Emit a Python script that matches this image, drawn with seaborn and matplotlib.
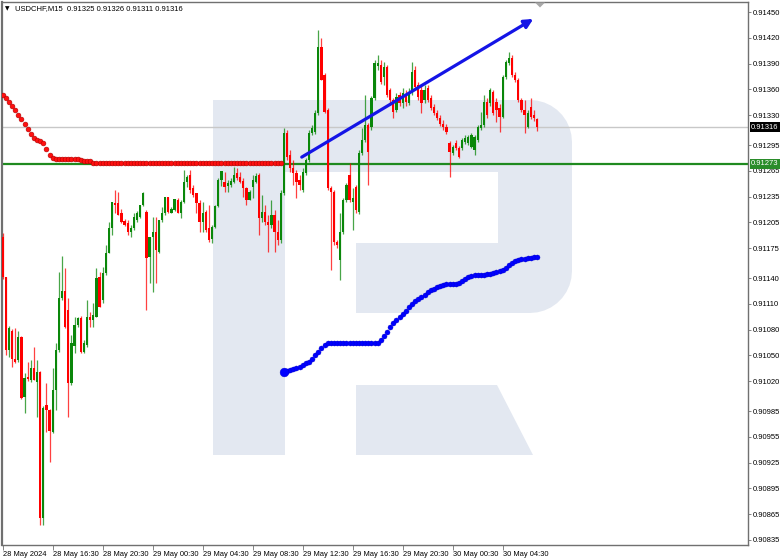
import matplotlib
matplotlib.use("Agg")
import matplotlib.pyplot as plt
import matplotlib.transforms as mtransforms
from matplotlib.patches import Polygon, FancyArrowPatch
import numpy as np
import pandas as pd
import seaborn as sns

# ---------------- data (prices in points, 1 point = 0.00001) ----------------
POINT = 1e-5
open_pts = [91188, 91141, 91056, 91078, 91046, 91045, 91071, 91001, 91025, 91021,
            91035, 91019, 91031, 90860, 90992, 90986, 90961, 91010, 91056, 91117,
            91125, 91103, 91018, 91061, 91085, 91093, 91054, 91062, 91095, 91091,
            91095, 91141, 91114, 91146, 91169, 91198, 91227, 91227, 91216, 91206,
            91204, 91194, 91198, 91208, 91211, 91225, 91217, 91165, 91188, 91194,
            91170, 91208, 91216, 91235, 91216, 91219, 91231, 91216, 91229, 91252,
            91260, 91245, 91239, 91227, 91205, 91217, 91198, 91186, 91199, 91224,
            91254, 91252, 91247, 91248, 91252, 91262, 91258, 91253, 91245, 91231,
            91246, 91252, 91260, 91210, 91217, 91205, 91202, 91213, 91194, 91184,
            91239, 91309, 91283, 91268, 91262, 91254, 91243, 91262, 91278, 91309,
            91310, 91332, 91409, 91377, 91336, 91245, 91240, 91182, 91161, 91194,
            91231, 91260, 91229, 91246, 91217, 91286, 91301, 91318, 91316, 91350,
            91387, 91388, 91374, 91386, 91359, 91348, 91336, 91353, 91344, 91353,
            91344, 91356, 91382, 91365, 91359, 91348, 91361, 91350, 91339, 91332,
            91326, 91320, 91316, 91297, 91286, 91297, 91292, 91292, 91299, 91297,
            91293, 91289, 91301, 91315, 91318, 91345, 91344, 91357, 91345, 91338,
            91328, 91374, 91391, 91396, 91377, 91371, 91348, 91336, 91316, 91339,
            91330, 91325]
high_pts = [91193, 91141, 91084, 91081, 91082, 91078, 91073, 91030, 91042, 91045,
            91060, 91045, 91032, 90991, 91018, 90987, 91035, 91064, 91147, 91166,
            91152, 91117, 91074, 91095, 91095, 91096, 91068, 91114, 91100, 91111,
            91152, 91147, 91153, 91179, 91205, 91229, 91243, 91240, 91220, 91209,
            91208, 91202, 91216, 91218, 91225, 91240, 91219, 91188, 91211, 91211,
            91208, 91223, 91235, 91235, 91223, 91232, 91233, 91231, 91266, 91260,
            91266, 91248, 91239, 91231, 91229, 91219, 91225, 91202, 91225, 91257,
            91265, 91264, 91254, 91257, 91269, 91268, 91264, 91257, 91246, 91243,
            91260, 91262, 91262, 91237, 91225, 91213, 91231, 91219, 91208, 91243,
            91315, 91313, 91289, 91278, 91266, 91260, 91268, 91280, 91313, 91318,
            91336, 91429, 91420, 91379, 91338, 91247, 91243, 91184, 91216, 91233,
            91251, 91274, 91245, 91248, 91289, 91315, 91353, 91321, 91352, 91394,
            91400, 91394, 91392, 91388, 91361, 91350, 91356, 91357, 91361, 91359,
            91361, 91392, 91387, 91368, 91364, 91365, 91365, 91353, 91343, 91336,
            91330, 91324, 91320, 91300, 91295, 91301, 91294, 91303, 91307, 91307,
            91309, 91307, 91318, 91334, 91353, 91350, 91361, 91359, 91350, 91343,
            91377, 91394, 91403, 91400, 91380, 91373, 91350, 91348, 91336, 91350,
            91336, 91326]
low_pts = [91139, 91050, 91048, 91036, 91041, 91042, 90999, 90983, 91020, 91019,
           91021, 90978, 90852, 90852, 90961, 90926, 90960, 90986, 91054, 91114,
           91082, 90978, 91015, 91053, 91083, 91053, 91053, 91060, 91083, 91083,
           91095, 91106, 91111, 91144, 91169, 91190, 91216, 91213, 91204, 91201,
           91190, 91188, 91196, 91205, 91210, 91224, 91103, 91134, 91124, 91134,
           91169, 91205, 91213, 91216, 91216, 91218, 91216, 91210, 91227, 91246,
           91239, 91235, 91216, 91194, 91194, 91194, 91182, 91181, 91198, 91223,
           91247, 91240, 91240, 91246, 91251, 91254, 91251, 91235, 91225, 91231,
           91233, 91251, 91190, 91205, 91202, 91170, 91198, 91170, 91179, 91181,
           91237, 91278, 91264, 91248, 91233, 91243, 91240, 91260, 91275, 91307,
           91308, 91330, 91371, 91332, 91243, 91149, 91179, 91175, 91138, 91191,
           91229, 91229, 91196, 91216, 91215, 91283, 91299, 91248, 91313, 91348,
           91382, 91366, 91365, 91351, 91342, 91326, 91334, 91341, 91338, 91341,
           91342, 91353, 91359, 91348, 91332, 91344, 91345, 91336, 91330, 91324,
           91317, 91313, 91308, 91258, 91283, 91289, 91280, 91289, 91296, 91295,
           91292, 91283, 91299, 91313, 91316, 91326, 91341, 91330, 91322, 91310,
           91326, 91372, 91388, 91374, 91368, 91345, 91334, 91309, 91315, 91325,
           91323, 91311]
close_pts = [91141, 91056, 91082, 91046, 91042, 91071, 91000, 91024, 91022, 91035,
             91021, 91031, 90860, 90989, 90986, 90962, 91010, 91056, 91117, 91125,
             91083, 91018, 91064, 91085, 91093, 91054, 91064, 91095, 91091, 91097,
             91140, 91106, 91146, 91169, 91198, 91229, 91225, 91213, 91205, 91202,
             91194, 91198, 91211, 91216, 91225, 91239, 91163, 91188, 91194, 91173,
             91208, 91216, 91235, 91217, 91220, 91232, 91216, 91229, 91252, 91258,
             91243, 91237, 91227, 91205, 91216, 91196, 91184, 91199, 91224, 91254,
             91265, 91246, 91251, 91253, 91260, 91257, 91252, 91245, 91231, 91240,
             91254, 91259, 91210, 91217, 91205, 91202, 91213, 91194, 91184, 91239,
             91309, 91281, 91268, 91262, 91252, 91248, 91264, 91278, 91309, 91315,
             91332, 91409, 91371, 91334, 91245, 91240, 91182, 91179, 91194, 91231,
             91248, 91231, 91233, 91219, 91286, 91301, 91318, 91287, 91350, 91391,
             91391, 91368, 91386, 91353, 91348, 91334, 91351, 91344, 91356, 91345,
             91356, 91380, 91363, 91351, 91344, 91359, 91348, 91338, 91332, 91326,
             91320, 91316, 91310, 91287, 91293, 91292, 91281, 91301, 91303, 91304,
             91307, 91304, 91316, 91318, 91345, 91330, 91359, 91332, 91336, 91328,
             91374, 91392, 91396, 91377, 91371, 91348, 91336, 91330, 91332, 91328,
             91326, 91316]

red_ma_pts = [91353, 91350, 91345, 91341, 91336, 91330, 91325, 91320, 91314, 91308,
              91303, 91301, 91300, 91297, 91290, 91283, 91280, 91279, 91279, 91279,
              91279, 91279, 91279, 91279, 91279, 91278, 91277, 91276, 91276, 91274,
              91274, 91274, 91274, 91274, 91274, 91274, 91274, 91274, 91274, 91274,
              91274, 91274, 91274, 91274, 91274, 91274, 91274, 91274, 91274, 91274,
              91274, 91274, 91274, 91274, 91274, 91274, 91274, 91274, 91274, 91274,
              91274, 91274, 91274, 91274, 91274, 91274, 91274, 91274, 91274, 91274,
              91274, 91274, 91274, 91274, 91274, 91274, 91274, 91274, 91274, 91274,
              91274, 91274, 91274, 91274, 91274, 91274, 91274, 91274, 91274, 91274]
blue_ma_start = 90
blue_ma_pts = [91031, 91032, 91033, 91034, 91035, 91036, 91039, 91041, 91042, 91046,
               91050, 91054, 91059, 91062, 91064, 91064, 91064, 91064, 91064, 91064,
               91064, 91064, 91064, 91064, 91064, 91064, 91064, 91064, 91064, 91064,
               91064, 91068, 91073, 91077, 91083, 91088, 91091, 91095, 91098, 91102,
               91106, 91110, 91113, 91116, 91118, 91120, 91124, 91126, 91127, 91130,
               91131, 91132, 91133, 91133, 91133, 91133, 91134, 91137, 91139, 91141,
               91142, 91144, 91144, 91144, 91144, 91145, 91145, 91146, 91147, 91148,
               91149, 91152, 91155, 91158, 91160, 91161, 91162, 91162, 91163, 91163,
               91165, 91165]

trend_start = (95.7, 0.91281)
trend_end = (169.8, 0.91442)
bid_price = 0.91316
level_price = 0.91273
header_symbol = "USDCHF,M15"
header_ohlc = "0.91325 0.91326 0.91311 0.91316"
ytick_values = [0.91450, 0.91420, 0.91390, 0.91360, 0.91330, 0.91295, 0.91265,
                0.91235, 0.91205, 0.91175, 0.91140, 0.91110, 0.91080, 0.91050,
                0.91020, 0.90985, 0.90955, 0.90925, 0.90895, 0.90865, 0.90835]
xtick_labels = ["28 May 2024", "28 May 16:30", "28 May 20:30", "29 May 00:30",
                "29 May 04:30", "29 May 08:30", "29 May 12:30", "29 May 16:30",
                "29 May 20:30", "30 May 00:30", "30 May 04:30"]
xtick_step = 16

# ---------------- figure ----------------
sns.set_theme(style="white")
plt.rcParams["font.family"] = ["Liberation Sans", "DejaVu Sans"]

W, H = 782, 558
fig = plt.figure(figsize=(W / 100, H / 100), dpi=100)
fig.patch.set_facecolor("white")
ax = fig.add_axes([2 / W, 1 - 545 / H, 746 / W, 543 / H])
ax.set_facecolor("white")

def fpx(x, y):
    return (x / W, 1 - y / H)

# watermark logo (figure pixel geometry)
wm_color = "#e3e8f1"
outer = [(213, 100), (530, 100)]
for t in np.linspace(0, np.pi / 2, 10):
    outer.append((530 + 42 * np.sin(t), 142 - 42 * np.cos(t)))
outer.append((572, 270))
for t in np.linspace(0, np.pi / 2, 10):
    outer.append((530 + 42 * np.cos(t), 271 + 42 * np.sin(t)))
outer += [(356, 313), (356, 243), (498, 243), (498, 172), (285, 172), (285, 455), (213, 455)]
leg = [(356, 385), (497, 385), (533, 455), (356, 455)]
for poly in (outer, leg):
    ax.add_patch(Polygon([fpx(*p) for p in poly], closed=True, transform=fig.transFigure,
                         facecolor=wm_color, edgecolor="none", zorder=0))

n = len(close_pts)
df = pd.DataFrame({
    "k": np.arange(n),
    "open": np.array(open_pts) * POINT,
    "high": np.array(high_pts) * POINT,
    "low": np.array(low_pts) * POINT,
    "close": np.array(close_pts) * POINT,
})
GREEN = "#0a870a"
RED = "#ff0000"
up = df["close"] >= df["open"]
colors = np.where(up, GREEN, RED)

# horizontal lines
ax.axhline(bid_price, color="#c8c8c8", lw=1.0, zorder=1)
ax.axhline(level_price, color="#1f8a1f", lw=1.6, zorder=1)

# candles
ax.vlines(df["k"], df["low"], df["high"], colors=colors, linewidth=0.9, alpha=0.75, zorder=3)
body_bottom = np.minimum(df["open"], df["close"])
body_h = np.maximum((df["close"] - df["open"]).abs(), 1.0 * POINT)
ax.bar(df["k"], body_h, bottom=body_bottom, width=0.7, color=colors, linewidth=0, zorder=4)

# moving-average style dotted indicators
red_df = pd.DataFrame({"k": np.arange(len(red_ma_pts)), "v": np.array(red_ma_pts) * POINT})
sns.scatterplot(data=red_df, x="k", y="v", ax=ax, color="#ff1010", s=12,
                edgecolor="#b00000", linewidth=0.4, zorder=5)
blue_df = pd.DataFrame({"k": blue_ma_start + np.arange(len(blue_ma_pts)),
                        "v": np.array(blue_ma_pts) * POINT})
sns.scatterplot(data=blue_df, x="k", y="v", ax=ax, color="#0000ff", s=13,
                edgecolor="#0000cc", linewidth=0.3, zorder=5)
sns.scatterplot(data=blue_df.iloc[:1], x="k", y="v", ax=ax, color="#0000ff", s=40,
                edgecolor="#0000cc", linewidth=0.3, zorder=5)

# trend arrow
arrow = FancyArrowPatch(trend_start, trend_end, arrowstyle="-|>", mutation_scale=13,
                        color="#1414e6", lw=2.3, zorder=6, shrinkA=0, shrinkB=0)
ax.add_patch(arrow)

# axes limits & ticks
ax.set_xlim(-0.224, 238.5)
ax.set_ylim(0.908291, 0.914617)
ax.set_xlabel("")
ax.set_ylabel("")

ax.yaxis.tick_right()
ax.set_yticks(ytick_values)
ax.set_yticklabels([f"{v:.5f}" for v in ytick_values])
ax.set_xticks([i * xtick_step for i in range(len(xtick_labels))])
ax.set_xticklabels(xtick_labels)
for lab in ax.get_xticklabels():
    lab.set_horizontalalignment("left")
ax.tick_params(axis="y", which="both", right=True, left=False, labelright=True, labelleft=False,
               length=2.5, width=0.6, color="#707070", labelsize=5.5, pad=1.2, labelcolor="black")
ax.tick_params(axis="x", which="both", bottom=True, top=False, length=3.5, width=0.6,
               color="#707070", labelsize=5.4, pad=0.8, labelcolor="black")
for s in ax.spines.values():
    s.set_color("#707070")
    s.set_linewidth(1.0)
ax.spines["left"].set_linewidth(1.6)

# price tags on the right scale
blend = mtransforms.blended_transform_factory(ax.transAxes, ax.transData)
ax.text(1.004, bid_price, f"{bid_price:.5f}", transform=blend, ha="left", va="center",
        fontsize=5.5, color="white", zorder=10, clip_on=False,
        bbox=dict(boxstyle="square,pad=0.18", fc="black", ec="none"))
ax.text(1.004, level_price, f"{level_price:.5f}", transform=blend, ha="left", va="center",
        fontsize=5.5, color="white", zorder=10, clip_on=False,
        bbox=dict(boxstyle="square,pad=0.18", fc="#2a8c2a", ec="none"))

# header
fig.text(*fpx(4.5, 9), "\u25BC", fontsize=4.2, va="center", ha="left", color="black",
         family=["DejaVu Sans"])
fig.text(*fpx(15, 9), f"{header_symbol}  {header_ohlc}", fontsize=5.5, va="center",
         ha="left", color="black")

# chart-shift marker at the top
fig.patches.append(Polygon([fpx(535, 2.5), fpx(545, 2.5), fpx(540, 7.5)], closed=True,
                           transform=fig.transFigure, facecolor="#a8a8a8", edgecolor="none"))

fig.savefig("out.png", dpi=100, facecolor="white")
